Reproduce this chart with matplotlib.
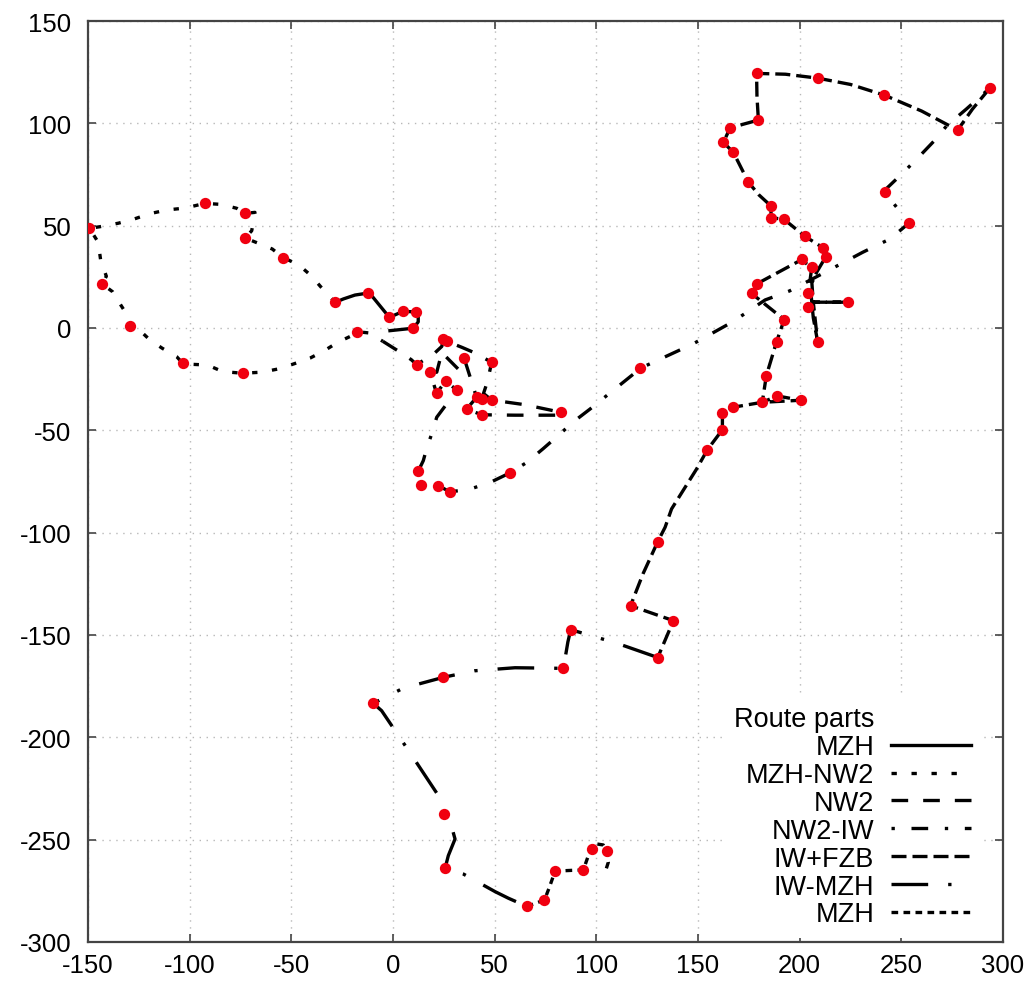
import matplotlib
matplotlib.use("Agg")
import matplotlib.pyplot as plt

plt.rcParams['font.family'] = ['Liberation Sans', 'DejaVu Sans']
plt.rcParams['axes.unicode_minus'] = False

# route parts (x, y in metres)
mzh_start_x = [-1.5, 10, 12.4, 12.4, 11.3, 5.1, -1.8, -10.5, -12.1, -18.7, -24.4, -28.5]
mzh_start_y = [-1.3, -0.1, 3, 6.5, 7.8, 8.2, 5.2, 15.8, 17.1, 16.1, 14.2, 12.5]

mzh_nw2_x = [-28.5, -30.7, -35.6, -40.3, -46.3, -54, -59.4, -66.5, -72.8, -69.5, -67.9, -72.8,
             -76.9, -84.6, -92.5, -102.3, -111, -119.5, -127.2, -135.1, -144.1, -149.3, -145,
             -143.8, -141, -143, -137.9, -134, -129.7, -129.3, -124.4, -119.5, -113.5, -106.4,
             -103.5, -99.9, -91.2, -83.8, -74, -64.6, -56.4, -49, -40.8, -33.8, -27.2, -20.4,
             -17.6, -12, -5]
mzh_nw2_y = [12.5, 15, 20.2, 25.6, 30.8, 34.4, 38.6, 41.5, 44, 47.5, 56.5, 56,
             58.5, 60.4, 60.9, 58.6, 57.7, 55.9, 53.3, 51.2, 49.5, 48.7, 41.9,
             33.2, 25.3, 21.5, 17.7, 11.4, 4.7, 1.1, -1.3, -5.9, -9.9, -14,
             -17.2, -17.7, -18.1, -21.3, -22.1, -21.6, -20, -17.6, -14.7, -11.1, -7, -3.8,
             -1.8, -2.4, -6.5]

nw2_x = [-5, 3, 9, 11.6, 20, 24, 24.7, 26.4, 34, 41, 48.5, 46.5, 44.5, 48.5, 65, 82.6, 80, 60,
         43.6, 36.2, 41.1, 35, 32, 24, 21.5, 18.2, 21.4, 25.9, 31.3]
nw2_y = [-6.5, -11.5, -15.5, -17.9, -12.7, -9, -5.4, -6.5, -9.5, -12.5, -16.8, -26, -32, -35.2,
         -37.5, -41.2, -42.6, -42.6, -42.4, -39.6, -33.9, -14.8, -20, -12, -21.6, -21.6, -31.8,
         -26, -30.3]

nw2_iw_x = [31.3, 29.5, 21.5, 19, 16.5, 14.9, 12.4, 13.8, 22.3, 27.8, 37, 47.7, 57.5, 65.6, 73.8,
            82.1, 88.5, 96.9, 122, 147.5, 167, 183, 195, 213, 231, 244.4, 253.8, 245.3, 241.5,
            251, 259, 266.6, 272.3, 282, 293.6]
nw2_iw_y = [-30.3, -33, -43.6, -51.8, -59, -64.8, -70, -76.7, -77, -80, -79, -75.5, -70.8, -65.8,
            -59, -51.8, -46, -39.6, -19.5, -7.8, 3, 13.7, 18.1, 27.5, 37, 43.5, 51.3, 62, 67,
            76, 84, 91.9, 98.8, 107, 117.3]

iw_fzb_x = [293.6, 285, 277.7, 260, 241.6, 225, 208.8, 193, 178.8, 179, 179.7, 172, 165.7, 162.5,
            167.4, 174.8, 180, 185.9, 185.9, 192.3, 202.6, 211.6, 212.9, 208.5, 206, 206.7, 223.4,
            206.7, 208.8, 206.7, 205, 205.9, 201, 178.8, 176.7, 192.4, 188.7, 183.6, 181.6, 189,
            200.5, 181.6, 167.4, 162, 162, 154.6, 149.3, 137, 133.8, 130.2, 123, 116.8, 137.9,
            130.2]
iw_fzb_y = [117.3, 107, 96.7, 106, 113.8, 119, 122.1, 124, 124.4, 113, 101.6, 99.5, 97.6, 90.7,
            85.8, 71.2, 65, 59.6, 53.9, 53.1, 44.8, 39.1, 34.9, 27.5, 22, 12.6, 12.6,
            12.6, -6.5, 5, 22.5, 29.3, 33.4, 21.5, 16.6, 4.1, -6.5, -23.3, -36.3, -33.2,
            -35.3, -36.3, -38.7, -41.7, -49.7, -59.5, -68.9, -88.4, -97.4, -104.4, -120, -135.7, -143,
            -161]

iw_mzh_x = [130.2, 110, 87.4, 86, 83.8, 60, 40, 24.7, 5, -9.7, -5.6, 8, 21.8, 25.2, 28, 30.5,
            27.2, 25.6, 34.6, 50.2, 56.7, 65.8]
iw_mzh_y = [-161, -154, -147.4, -153.4, -166.3, -166, -167.5, -170.7, -176, -183.4, -187, -207,
            -227.7, -237.5, -240.7, -249.7, -257.8, -264, -266.8, -275.4, -278.6, -282.6]

mzh_end_x = [65.8, 74.5, 77, 79.7, 88, 93.6, 96, 98.1, 100.2, 103.4, 105.1, 105.9, 104.3]
mzh_end_y = [-282.6, -279.5, -273, -265.4, -265, -264.8, -258, -254.6, -252.1, -252.6, -255.7,
             -261, -266]

# waypoints
wp_x = [-149.3, -92.5, -72.8, -72.8, -54, -143, -129.3, -103.5, -74, -17.6,
        -28.5, -12.1, -1.8, 5.1, 11.3, 10,
        24.7, 26.4, 35, 48.5, 11.6, 18.2, 25.9, 21.4, 31.3, 41.1, 43.6, 48.5, 36.2, 43.6, 82.6,
        12.4, 13.8, 22.3, 27.8, 57.5, 121.5,
        253.8, 242, 293.6, 277.7, 241.6, 208.8, 178.8, 179.7, 165.7, 162.5, 167.4, 174.8,
        185.9, 185.9, 192.3, 202.6, 211.6, 212.9, 201, 205.9, 178.8, 176.5, 204.3, 204.3,
        223.6, 208.8, 192.4, 188.7, 183.6, 181.6, 189, 200.5, 167.4, 162, 162, 154.6,
        130.2, 116.8, 137.9, 130.2, 87.4, 83.8, 24.7, -9.7, 25.2, 25.6,
        65.8, 74.5, 79.7, 93.6, 98.1, 105.1]
wp_y = [48.7, 60.9, 56, 44, 34.4, 21.5, 1.1, -17.2, -22.1, -1.8,
        12.5, 17.1, 5.2, 8.2, 7.8, -0.1,
        -5.4, -6.5, -14.8, -16.8, -17.9, -21.6, -26, -31.8, -30.3, -33.9, -34.7, -35.2, -39.6,
        -42.3, -41.2,
        -70, -76.7, -77, -80, -70.8, -19.5,
        51.3, 66.4, 117.3, 96.7, 113.8, 122.1, 124.4, 101.6, 97.6, 90.7, 85.8, 71.2,
        59.6, 53.9, 53.1, 44.8, 39.1, 34.9, 33.5, 29.7, 21.5, 17, 17.1, 10.1,
        12.6, -6.7, 4.1, -6.7, -23.3, -36.3, -33.2, -35.3, -38.7, -41.7, -49.7, -59.5,
        -104.4, -135.7, -143, -161, -147.4, -166.3, -170.7, -183.4, -237.5, -264,
        -282.6, -279.5, -265.4, -264.8, -254.6, -255.7]

labels = ['MZH', 'MZH-NW2', 'NW2', 'NW2-IW', 'IW+FZB', 'IW-MZH', 'MZH']
styles = ['-', (0, (1.6, 4.4)), (0, (5, 4.5)), (0, (1, 5, 5, 5)), (0, (4.5, 1.8)),
          (0, (11, 6, 1, 6)), (0, (2, 1.6))]
parts = [(mzh_start_x, mzh_start_y), (mzh_nw2_x, mzh_nw2_y), (nw2_x, nw2_y),
         (nw2_iw_x, nw2_iw_y), (iw_fzb_x, iw_fzb_y), (iw_mzh_x, iw_mzh_y),
         (mzh_end_x, mzh_end_y)]

fig = plt.figure(figsize=(10.32, 9.87), dpi=100)
ax = fig.add_axes([0.0853, 0.0446, 0.8866, 0.9331])

ax.plot([], [], ' ', label='Route parts')
for (px, py), lab, ls in zip(parts, labels, styles):
    ax.plot(px, py, color='black', lw=2.4, linestyle=ls, label=lab)

ax.scatter(wp_x, wp_y, s=66, color='#f00010', zorder=5, linewidths=0)

ax.set_xlim(-150, 300)
ax.set_ylim(-300, 150)
ax.set_xticks(range(-150, 301, 50))
ax.set_yticks(range(-300, 151, 50))
ax.grid(True, color='#b8b8b8', linestyle=(0, (1, 4)), linewidth=1)
ax.tick_params(direction='in', length=6, width=1.2, top=True, right=True,
               labelsize=18.5, color='#444444')
ax.tick_params(axis='y', pad=12)
ax.tick_params(axis='x', pad=8)
for sp in ax.spines.values():
    sp.set_color('#444444')
    sp.set_linewidth(1.6)

leg = ax.legend(loc='lower right', bbox_to_anchor=(0.977, 0.004), borderaxespad=0,
                markerfirst=False, fontsize=19.5, handlelength=2.95, handletextpad=0.63,
                labelspacing=0.07, borderpad=0.4, frameon=True, framealpha=1,
                facecolor='white', edgecolor='none', fancybox=False)
leg.set_zorder(6)

fig.savefig('out.png', dpi=100)
